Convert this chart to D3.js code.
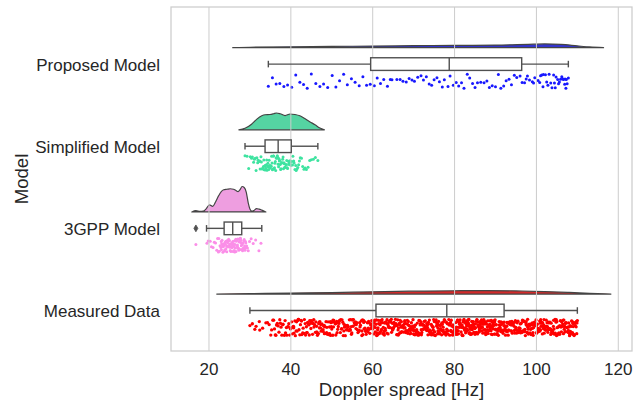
<!DOCTYPE html>
<html><head><meta charset="utf-8">
<script src="https://cdn.jsdelivr.net/npm/d3@7"></script>
<style>
body{margin:0;background:#fff}
svg{display:block}
text{font-family:"Liberation Sans",Arial,sans-serif;fill:#262626}
</style>
</head><body>
<svg id="chart" width="641" height="401"></svg>
<script>
// ---------------- data ----------------
const categories = ["Proposed Model", "Simplified Model", "3GPP Model", "Measured Data"];
const xTicks = [20, 40, 60, 80, 100, 120];
const xLabel = "Doppler spread [Hz]";
const yLabel = "Model";

// box statistics
const boxMin    = [34.5, 28.8, 19.4, 30.0];
const boxQ1     = [59.5, 33.7, 23.7, 60.8];
const boxMedian = [78.7, 36.9, 25.8, 78.1];
const boxQ3     = [96.4, 40.1, 28.0, 92.1];
const boxMax    = [107.8, 46.6, 32.9, 110.0];
const outliers  = [[], [], [16.8], []];

// half-violin density profiles (relative density, 3GPP peak = 1)
const violinXProposed = [25.8, 30, 40, 50, 60, 70, 80, 90, 98, 102, 106, 110, 113, 116.4];
const violinDProposed = [0, 0.016, 0.035, 0.047, 0.063, 0.078, 0.09, 0.10, 0.13, 0.145, 0.13, 0.07, 0.027, 0];
const violinXSimplified = [27.3, 28.8, 30.4, 31.7, 32.9, 33.7, 34.9, 35.8, 36.5, 37.4, 38.6, 39.8, 41.0, 42.2, 43.4, 44.7, 45.9, 47.1, 48.2];
const violinDSimplified = [0, 0.06, 0.22, 0.42, 0.55, 0.59, 0.60, 0.63, 0.66, 0.63, 0.56, 0.62, 0.60, 0.55, 0.44, 0.31, 0.20, 0.07, 0];
const violinX3GPP = [15.8, 16.8, 17.8, 18.6, 19.3, 20.1, 20.9, 21.6, 22.3, 23.0, 23.6, 24.4, 25.2, 26.0, 26.6, 27.1, 27.6, 28.1, 28.6, 29.1, 29.6, 30.0, 30.5, 31.0, 31.6, 32.2, 32.9, 33.9];
const violinD3GPP = [0, 0.05, 0.02, 0.03, 0.12, 0.28, 0.22, 0.39, 0.62, 0.80, 0.87, 0.89, 0.91, 0.89, 0.84, 0.80, 0.88, 1.0, 0.96, 0.78, 0.35, 0.12, 0.03, 0.06, 0.13, 0.11, 0.07, 0];
const violinXMeasured = [21.9, 30, 40, 50, 60, 70, 80, 88, 95, 102, 108, 113, 118.2];
const violinDMeasured = [0, 0.02, 0.04, 0.06, 0.09, 0.115, 0.13, 0.137, 0.125, 0.10, 0.063, 0.027, 0];

// individual observations (rain)
const pointsProposed = [34.5, 35.5, 36.4, 37.3, 38.3, 39.2, 40.2, 41.2, 42.2, 43.1, 44.0, 45.0, 46.1, 47.1, 48.0, 49.0, 50.1, 51.0, 51.9, 52.9, 53.8, 54.8, 55.7, 56.7, 57.6, 58.5, 59.4, 60.4, 61.1, 61.9, 62.7, 63.6, 64.3, 64.7, 65.9, 66.7, 67.4, 68.2, 68.9, 69.6, 70.2, 71.0, 71.8, 72.4, 73.1, 73.8, 74.4, 75.0, 75.7, 76.3, 77.0, 77.5, 78.4, 78.9, 79.7, 80.4, 81.0, 81.7, 82.3, 83.1, 83.7, 84.4, 85.0, 85.6, 86.4, 87.2, 87.9, 88.5, 89.2, 90.0, 90.7, 91.3, 92.0, 92.6, 93.3, 93.9, 94.6, 95.2, 96.0, 96.5, 97.1, 97.5, 97.8, 98.3, 99.0, 99.3, 99.6, 100.4, 100.8, 101.0, 101.3, 101.6, 101.7, 102.2, 102.5, 102.8, 103.1, 103.5, 103.8, 104.2, 104.4, 104.6, 104.8, 105.2, 105.4, 105.6, 105.9, 106.2, 106.4, 106.6, 106.9, 107.0, 107.2, 107.3, 107.5, 107.8];
const pointsSimplified = [28.8, 29.3, 29.7, 30.1, 30.4, 30.6, 30.9, 31.1, 31.3, 31.5, 31.7, 31.9, 32.0, 32.2, 32.4, 32.5, 32.7, 32.8, 33.0, 33.1, 33.3, 33.4, 33.5, 33.6, 33.7, 33.8, 33.9, 34.0, 34.1, 34.2, 34.3, 34.4, 34.5, 34.6, 34.7, 34.8, 34.9, 35.0, 35.1, 35.2, 35.3, 35.4, 35.5, 35.6, 35.7, 35.8, 35.9, 36.0, 36.1, 36.2, 36.3, 36.4, 36.5, 36.6, 36.7, 36.8, 36.9, 37.0, 37.1, 37.2, 37.3, 37.4, 37.5, 37.6, 37.7, 37.8, 38.0, 38.1, 38.2, 38.3, 38.4, 38.5, 38.6, 38.8, 38.9, 39.0, 39.1, 39.2, 39.4, 39.5, 39.6, 39.7, 39.8, 40.0, 40.1, 40.2, 40.4, 40.5, 40.7, 40.8, 41.0, 41.2, 41.3, 41.5, 41.7, 41.9, 42.1, 42.3, 42.6, 42.9, 43.2, 43.5, 43.8, 44.2, 44.6, 45.0, 45.5, 46.0, 46.6];
const points3GPP = [16.8, 19.5, 19.8, 20.3, 20.6, 21.0, 21.3, 21.6, 21.9, 22.1, 22.3, 22.4, 22.5, 22.7, 22.9, 23.0, 23.05, 23.1, 23.2, 23.3, 23.4, 23.45, 23.5, 23.6, 23.7, 23.8, 23.85, 23.9, 24.0, 24.1, 24.15, 24.2, 24.3, 24.35, 24.4, 24.5, 24.55, 24.6, 24.7, 24.8, 24.9, 24.95, 25.0, 25.05, 25.1, 25.2, 25.3, 25.35, 25.4, 25.5, 25.6, 25.65, 25.7, 25.75, 25.8, 25.9, 26.0, 26.1, 26.15, 26.2, 26.3, 26.35, 26.4, 26.5, 26.55, 26.6, 26.7, 26.8, 26.9, 26.95, 27.0, 27.05, 27.1, 27.2, 27.3, 27.35, 27.4, 27.5, 27.6, 27.65, 27.7, 27.75, 27.8, 27.9, 28.0, 28.1, 28.15, 28.2, 28.25, 28.3, 28.4, 28.5, 28.55, 28.6, 28.7, 28.8, 28.9, 28.95, 29.0, 29.2, 29.4, 29.6, 29.9, 30.3, 30.8, 31.4, 32.2, 32.7];
const pointsMeasured = [
30.0, 30.6, 31.2, 31.5, 32.3, 32.4, 33.1, 33.9, 34.3, 34.7,
35.1, 35.3, 35.8, 36.0, 36.2, 36.7, 36.9, 37.1, 37.3, 37.8, 38.0, 38.1, 38.4, 38.7, 38.9, 39.0, 39.4, 39.5, 39.7, 39.9, 35.6, 36.5, 37.6, 38.6,
40.1, 40.2, 40.5, 40.7, 40.8, 41.0, 41.3, 41.4, 41.7, 41.9, 42.0, 42.2, 42.5, 42.6, 42.9, 43.0, 43.2, 43.5, 43.6, 43.8, 44.0, 44.1, 44.4, 44.5, 44.8, 44.9, 40.4, 41.1, 41.8, 42.7, 43.3, 44.6,
45.0, 45.2, 45.3, 45.6, 45.8, 46.0, 46.1, 46.4, 46.5, 46.8, 47.0, 47.1, 47.3, 47.6, 47.7, 47.9, 48.2, 48.3, 48.5, 48.8, 48.9, 49.1, 49.2, 49.5, 49.7, 49.8, 45.4, 46.3, 46.9, 47.4, 48.0, 48.6, 49.3, 49.9,
50.0, 50.3, 50.4, 50.7, 50.9, 51.0, 51.2, 51.5, 51.6, 51.9, 52.1, 52.2, 52.4, 52.7, 52.8, 53.0, 53.3, 53.4, 53.6, 53.9, 54.0, 54.2, 54.5, 54.6, 54.8, 50.5, 51.3, 51.8, 52.5, 53.1, 53.7, 54.3, 54.9, 50.1,
55.0, 55.2, 55.5, 55.7, 55.9, 56.1, 56.4, 56.6, 56.9, 57.0, 57.2, 57.5, 57.8, 57.9, 58.1, 58.3, 58.6, 58.7, 58.9, 59.2, 59.3, 59.5, 59.8, 59.9, 55.3, 56.0, 56.8, 57.4, 58.0, 58.4, 59.0, 59.6, 55.8, 57.6,
60.0, 60.2, 60.3, 60.5, 60.6, 60.8, 60.9, 60.4, 61.0, 61.1, 61.3, 61.4, 61.6, 61.7, 61.9, 61.2, 61.8, 62.0, 62.1, 62.3, 62.5, 62.6, 62.8, 62.9, 62.4, 62.7, 63.0, 63.2, 63.3, 63.5, 63.6, 63.8, 63.9, 63.1, 63.7, 64.0, 64.1, 64.3, 64.4, 64.6, 64.8, 64.9, 64.2, 64.7, 65.0, 65.1, 65.2, 65.4, 65.6, 65.7, 65.9, 65.3, 65.8, 66.0, 66.2, 66.3, 66.5, 66.6, 66.8, 66.9, 66.1, 66.7, 67.0, 67.1, 67.3, 67.4, 67.6, 67.7, 67.9, 67.2, 67.8, 68.0, 68.2, 68.3, 68.5, 68.6, 68.8, 68.9, 68.1, 68.7, 69.0, 69.1, 69.3, 69.4, 69.6, 69.7, 69.9, 69.2, 69.8,
70.0, 70.1, 70.3, 70.4, 70.6, 70.7, 70.9, 70.2, 70.8, 71.0, 71.2, 71.3, 71.5, 71.6, 71.8, 71.9, 71.1, 71.7, 72.0, 72.1, 72.3, 72.4, 72.6, 72.7, 72.9, 72.2, 72.8, 73.0, 73.2, 73.3, 73.5, 73.6, 73.8, 73.9, 73.1, 73.4, 74.0, 74.1, 74.3, 74.4, 74.6, 74.7, 74.9, 74.2, 74.8, 75.0, 75.2, 75.3, 75.5, 75.6, 75.8, 75.9, 75.1, 75.7, 76.0, 76.1, 76.3, 76.4, 76.6, 76.7, 76.9, 76.2, 76.8, 77.0, 77.2, 77.3, 77.5, 77.6, 77.8, 77.9, 77.1, 77.4, 78.0, 78.1, 78.3, 78.4, 78.6, 78.7, 78.9, 78.2, 78.8, 79.0, 79.2, 79.3, 79.5, 79.6, 79.8, 79.9, 79.1, 79.7,
80.0, 80.1, 80.2, 80.4, 80.5, 80.6, 80.8, 80.9, 80.3, 80.7, 80.55, 81.0, 81.1, 81.3, 81.4, 81.5, 81.7, 81.8, 81.2, 81.6, 81.9, 81.35, 82.0, 82.1, 82.2, 82.4, 82.5, 82.7, 82.8, 82.3, 82.6, 82.9, 82.45, 83.0, 83.1, 83.3, 83.4, 83.5, 83.7, 83.8, 83.2, 83.6, 83.9, 83.55, 84.0, 84.1, 84.2, 84.4, 84.5, 84.7, 84.8, 84.3, 84.6, 84.9, 84.25, 85.0, 85.1, 85.3, 85.4, 85.5, 85.7, 85.8, 85.2, 85.6, 85.9, 85.45, 86.0, 86.1, 86.2, 86.4, 86.5, 86.7, 86.8, 86.3, 86.6, 86.9, 86.55, 87.0, 87.1, 87.3, 87.4, 87.5, 87.7, 87.8, 87.2, 87.6, 87.9, 87.35, 88.0, 88.1, 88.2, 88.4, 88.5, 88.7, 88.8, 88.3, 88.6, 88.9, 88.45, 89.0, 89.1, 89.3, 89.4, 89.5, 89.7, 89.8, 89.2, 89.6, 89.9, 89.25,
90.0, 90.1, 90.3, 90.4, 90.6, 90.7, 90.9, 90.2, 90.8, 90.45, 91.0, 91.2, 91.3, 91.5, 91.6, 91.8, 91.9, 91.1, 91.7, 91.35, 92.0, 92.1, 92.3, 92.4, 92.6, 92.7, 92.9, 92.2, 92.8, 93.0, 93.2, 93.3, 93.5, 93.6, 93.8, 93.9, 93.1, 93.7, 94.0, 94.1, 94.3, 94.4, 94.6, 94.7, 94.9, 94.2, 94.8, 95.0, 95.2, 95.3, 95.5, 95.6, 95.8, 95.9, 95.1, 95.7, 96.0, 96.1, 96.3, 96.4, 96.6, 96.7, 96.9, 96.2, 96.8, 97.0, 97.2, 97.3, 97.5, 97.6, 97.8, 97.9, 97.1, 97.7, 98.0, 98.1, 98.3, 98.4, 98.6, 98.7, 98.9, 98.2, 98.8, 99.0, 99.2, 99.3, 99.5, 99.6, 99.8, 99.9, 99.1, 99.7,
100.0, 100.1, 100.3, 100.4, 100.6, 100.7, 100.9, 100.2, 100.8, 101.0, 101.2, 101.3, 101.5, 101.6, 101.8, 101.9, 101.1, 101.7, 102.0, 102.1, 102.3, 102.4, 102.6, 102.7, 102.9, 102.2, 102.8, 103.0, 103.2, 103.3, 103.5, 103.6, 103.8, 103.9, 103.1, 103.7, 104.0, 104.1, 104.3, 104.4, 104.6, 104.7, 104.9, 104.2, 104.8, 105.0, 105.2, 105.3, 105.5, 105.6, 105.8, 105.9, 105.1, 105.7, 106.0, 106.1, 106.3, 106.4, 106.6, 106.7, 106.9, 106.2, 106.8, 107.0, 107.2, 107.3, 107.5, 107.6, 107.8, 107.9, 107.1, 107.7, 108.0, 108.1, 108.3, 108.4, 108.6, 108.7, 108.9, 108.2, 108.8, 109.0, 109.2, 109.3, 109.5, 109.6, 109.8, 109.9, 109.1, 109.7, 110.0,
45.15, 45.65, 46.25, 46.75, 47.25, 47.85, 48.15, 48.75, 49.45, 49.65, 50.25, 50.85, 51.45, 51.75, 52.35, 52.95, 53.25, 53.85, 54.45, 54.75, 55.15, 55.65, 56.25, 56.75, 57.35, 57.75, 58.25, 58.85, 59.15, 59.75, 42.35, 43.85, 41.55, 39.25, 37.45, 36.35, 44.25, 40.65,
60.05, 60.35, 60.65, 60.95, 61.15, 61.45, 61.85, 62.15, 62.55, 62.85, 63.05, 63.45, 63.75, 64.15, 64.55, 64.85, 65.25, 65.55, 65.95, 66.25, 66.45, 66.85, 67.15, 67.55, 67.85, 68.05, 68.45, 68.75, 69.15, 69.45, 69.85,
70.05, 70.45, 70.75, 71.15, 71.45, 71.85, 72.15, 72.55, 72.85, 73.25, 73.55, 73.85, 74.15, 74.45, 74.75, 75.05, 75.45, 75.85, 76.15, 76.55, 76.85, 77.25, 77.45, 77.75, 78.05, 78.45, 78.75, 79.15, 79.55, 79.85,
80.05, 80.35, 80.75, 80.95, 81.15, 81.55, 81.85, 82.05, 82.35, 82.75, 82.95, 83.15, 83.45, 83.75, 83.95, 84.15, 84.45, 84.65, 84.95, 85.15, 85.35, 85.65, 85.95, 86.05, 86.35, 86.75, 86.95, 87.15, 87.45, 87.65, 87.95, 88.05, 88.35, 88.65, 88.95, 89.15, 89.45, 89.65, 89.85,
90.05, 90.35, 90.65, 90.95, 91.15, 91.45, 91.85, 92.05, 92.45, 92.75, 93.05, 93.45, 93.85, 94.15, 94.55, 94.85, 95.15, 95.45, 95.75, 96.05, 96.45, 96.75, 97.15, 97.45, 97.85, 98.05, 98.45, 98.75, 99.15, 99.45, 99.85,
100.05, 100.45, 100.75, 101.05, 101.45, 101.85, 102.15, 102.45, 102.75, 103.05, 103.45, 103.75, 104.15, 104.55, 104.85, 105.05, 105.45, 105.85, 106.15, 106.55, 106.85, 107.05, 107.45, 107.85, 108.15, 108.55, 108.85, 109.05, 109.45, 109.85
];

// ---------------- styles ----------------
const pointColors  = ["#1818ff", "#3ee3a0", "#fb8ee8", "#ff0000"];
const violinColors = ["#3434cc", "#55d4a2", "#ee9ee0", "#d42a2a"];
const pointRadius  = [1.5, 1.5, 1.5, 1.65];

const violinXs = [violinXProposed, violinXSimplified, violinX3GPP, violinXMeasured];
const violinDs = [violinDProposed, violinDSimplified, violinD3GPP, violinDMeasured];
const pointSets = [pointsProposed, pointsSimplified, points3GPP, pointsMeasured];

// ---------------- drawing ----------------
const svg = d3.select("#chart");
const L = 171, R = 632, T = 7, B = 351;
const x = d3.scaleLinear().domain([10.72, 123.35]).range([L, R]);
const y = d3.scaleLinear().domain([-0.695, 3.493]).range([T, B]);
const vScale = d3.scaleLinear().domain([0, 1]).range([0, 0.31]); // density -> category units

const violinOffset = -0.2, boxHalf = 0.077, capHalf = 0.04, rainCenter = 0.207;
const rainJitter = [0.088, 0.09, 0.088, 0.1];

svg.append("rect").attr("x", 0).attr("y", 0).attr("width", 641).attr("height", 401).attr("fill", "#fff");

// rain (points)
const rng = d3.randomLcg(0.4271);
const gPts = svg.append("g");
categories.forEach((c, i) => {
  gPts.selectAll(null).data(pointSets[i]).join("circle")
    .attr("cx", d => x(d))
    .attr("cy", () => y(i + rainCenter + (rng() * 2 - 1) * rainJitter[i]))
    .attr("r", pointRadius[i])
    .attr("fill", pointColors[i]);
});

// clouds (half violins)
const gV = svg.append("g");
categories.forEach((c, i) => {
  const pts = violinXs[i].map((v, k) => [v, violinDs[i][k]]);
  const area = d3.area()
    .x(d => x(d[0]))
    .y0(() => y(i + violinOffset))
    .y1(d => y(i + violinOffset - vScale(d[1])))
    .curve(d3.curveMonotoneX);
  gV.append("path").attr("d", area(pts))
    .attr("fill", violinColors[i])
    .attr("stroke", "#444").attr("stroke-width", 1.2).attr("stroke-linejoin", "round");
});

// grid
svg.append("g").selectAll("line").data(xTicks).join("line")
  .attr("x1", d => x(d)).attr("x2", d => x(d)).attr("y1", T).attr("y2", B)
  .attr("stroke", "#cccccc").attr("stroke-width", 1);

// boxes
const gB = svg.append("g").attr("stroke", "#505050").attr("stroke-width", 1.4);
categories.forEach((c, i) => {
  const cy = y(i);
  gB.append("line").attr("x1", x(boxMin[i])).attr("x2", x(boxQ1[i])).attr("y1", cy).attr("y2", cy);
  gB.append("line").attr("x1", x(boxQ3[i])).attr("x2", x(boxMax[i])).attr("y1", cy).attr("y2", cy);
  [boxMin[i], boxMax[i]].forEach(v => gB.append("line")
    .attr("x1", x(v)).attr("x2", x(v)).attr("y1", y(i - capHalf)).attr("y2", y(i + capHalf)));
  gB.append("rect").attr("x", x(boxQ1[i])).attr("y", y(i - boxHalf))
    .attr("width", x(boxQ3[i]) - x(boxQ1[i])).attr("height", y(i + boxHalf) - y(i - boxHalf))
    .attr("fill", "#fff");
  gB.append("line").attr("x1", x(boxMedian[i])).attr("x2", x(boxMedian[i]))
    .attr("y1", y(i - boxHalf)).attr("y2", y(i + boxHalf));
  outliers[i].forEach(v => {
    const px = x(v);
    gB.append("path").attr("d", `M${px},${cy - 3.4}L${px + 2},${cy}L${px},${cy + 3.4}L${px - 2},${cy}Z`)
      .attr("fill", "#505050").attr("stroke-width", 0.8);
  });
});

// frame
svg.append("rect").attr("x", L).attr("y", T).attr("width", R - L).attr("height", B - T)
  .attr("fill", "none").attr("stroke", "#cccccc").attr("stroke-width", 1.25);

// x tick labels
svg.append("g").selectAll("text").data(xTicks).join("text")
  .attr("x", d => x(d)).attr("y", 375).attr("text-anchor", "middle")
  .attr("font-size", "17px").text(d => d);

// y tick labels
svg.append("g").selectAll("text").data(categories).join("text")
  .attr("x", 160).attr("y", (d, i) => y(i) + 6.5).attr("text-anchor", "end")
  .attr("font-size", "17px").text(d => d);

// axis labels
svg.append("text").attr("x", (L + R) / 2).attr("y", 396).attr("text-anchor", "middle")
  .attr("font-size", "18.6px").text(xLabel);
svg.append("text").attr("transform", `translate(28,${(T + B) / 2}) rotate(-90)`)
  .attr("text-anchor", "middle").attr("font-size", "18.6px").text(yLabel);
</script>
</body></html>
